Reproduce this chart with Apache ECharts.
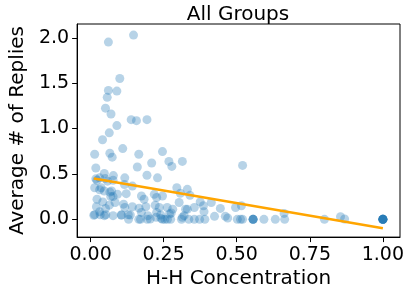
<!DOCTYPE html>
<html>
<head>
<meta charset="utf-8">
<script src="https://cdn.jsdelivr.net/npm/echarts@6/dist/echarts.min.js"></script>
<style>html,body{margin:0;padding:0;background:#fff;}#c{width:408px;height:294px;}</style>
</head>
<body>
<div id="c"></div>
<script>
// H-H concentration (x) and average # of replies (y) per group
const hhConcentration = [
  0.147,0.061,0.100,0.061,0.090,0.057,0.051,0.070,0.139,0.157,0.193,0.090,0.064,0.041,0.014,0.066,0.074,0.110,0.165,0.246,0.209,0.268,0.314,0.520,
  0.018,0.160,0.278,0.047,0.078,0.117,0.193,0.229,0.018,0.031,0.022,0.050,0.077,0.058,
  0.116,0.143,0.014,0.036,0.031,0.047,0.072,0.295,0.331,0.066,
  0.092,0.122,0.069,0.174,0.218,0.246,0.022,0.183,0.307,0.340,0.226,0.077,
  0.042,0.084,0.064,0.113,0.020,0.051,0.117,0.143,0.166,0.189,0.221,0.235,0.262,0.303,0.375,0.386,0.413,0.444,0.496,0.516,0.281,0.325,0.331,0.355,
  0.031,0.174,0.226,0.388,0.662,0.270,0.276,0.014,0.047,0.077,0.106,0.136,0.196,0.240,0.320,0.424,0.461,0.855,0.224,0.314,0.469,
  0.130,0.165,0.194,0.246,0.254,0.274,0.311,0.336,0.355,0.373,0.391,0.502,0.513,0.520,0.556,0.556,0.556,0.556,0.593,0.632,0.664,0.800,0.869,
  1.0,1.0,1.0,1.0,1.0,1.0,1.0,1.0,0.204,0.171,0.263,0.241,0.011,0.033,0.052,0.105,0.129
];
const avgReplies = [
  2.030,1.953,1.551,1.420,1.413,1.344,1.225,1.160,1.098,1.087,1.098,1.033,0.953,0.877,0.717,0.728,0.685,0.779,0.717,0.746,0.620,0.638,0.638,0.594,
  0.565,0.576,0.583,0.505,0.482,0.457,0.486,0.457,0.446,0.457,0.431,0.449,0.431,0.420,
  0.384,0.366,0.348,0.348,0.326,0.312,0.312,0.348,0.330,0.300,
  0.275,0.283,0.250,0.257,0.275,0.257,0.221,0.221,0.286,0.264,0.240,0.250,
  0.192,0.185,0.156,0.167,0.138,0.120,0.130,0.138,0.123,0.138,0.156,0.130,0.130,0.185,0.192,0.149,0.185,0.120,0.130,0.149,0.112,0.112,0.110,0.130,
  0.084,0.076,0.076,0.084,0.065,0.058,0.070,0.051,0.040,0.040,0.047,0.047,0.040,0.047,0.040,0.033,0.033,0.029,0.022,0.022,0.014,
  0.0,0.0,0.0,0.0,0.0,0.0,0.0,0.0,0.0,0.0,0.0,0.0,0.0,0.0,0.0,0.0,0.0,0.0,0.0,0.0,0.0,0.0,0.003,
  0.0,0.0,0.0,0.0,0.0,0.0,0.0,0.0,0.003,0.0,0.0,0.010,0.045,0.050,0.050,0.048,0.050
];
// fitted trend line endpoints
const trendX = [0.011, 1.0];
const trendY = [0.449, -0.098];
const xTicks = [0, 0.25, 0.5, 0.75, 1.0];
const yTicks = [0, 0.5, 1.0, 1.5, 2.0];

const scatterData = hhConcentration.map((x, i) => [x, avgReplies[i]]);
const lineData = trendX.map((x, i) => [x, trendY[i]]);
const FONT = 'DejaVu Sans';

const chart = echarts.init(document.getElementById('c'), null, {renderer: 'canvas'});
chart.setOption({
  animation: false,
  backgroundColor: '#fff',
  title: {
    text: 'All Groups', left: 233, top: 0, textAlign: 'center',
    textStyle: {fontFamily: FONT, fontSize: 20, fontWeight: 'normal', color: '#000'}
  },
  grid: {left: 66, right: 8, top: 24, bottom: 54, show: true, borderColor: '#000', borderWidth: 1, backgroundColor: 'transparent'},
  xAxis: {
    type: 'value', min: -0.046, max: 1.0585,
    name: 'H-H Concentration', nameLocation: 'middle', nameGap: 31,
    nameTextStyle: {fontFamily: FONT, fontSize: 20, color: '#000'},
    axisLine: {show: true, onZero: false, lineStyle: {color: '#000', width: 1}},
    axisTick: {show: true, length: 5, customValues: xTicks, lineStyle: {color: '#000'}},
    axisLabel: {customValues: xTicks, fontFamily: FONT, fontSize: 19, color: '#000', margin: 8,
      formatter: v => v.toFixed(2)},
    splitLine: {show: false}
  },
  yAxis: {
    type: 'value', min: -0.196, max: 2.152,
    name: 'Average # of Replies', nameLocation: 'middle', nameGap: 38,
    nameTextStyle: {fontFamily: FONT, fontSize: 20, color: '#000'},
    axisLine: {show: true, onZero: false, lineStyle: {color: '#000', width: 1}},
    axisTick: {show: true, length: 5, customValues: yTicks, lineStyle: {color: '#000'}},
    axisLabel: {customValues: yTicks, fontFamily: FONT, fontSize: 19, color: '#000', margin: 8,
      formatter: v => v.toFixed(1)},
    splitLine: {show: false}
  },
  series: [
    {
      type: 'scatter', data: scatterData, symbolSize: 9,
      itemStyle: {color: '#1f77b4', opacity: 0.32}
    },
    {
      type: 'line', data: lineData, showSymbol: false, symbol: 'none',
      lineStyle: {color: '#ffa500', width: 2.5}, z: 3
    }
  ]
});
</script>
</body>
</html>
